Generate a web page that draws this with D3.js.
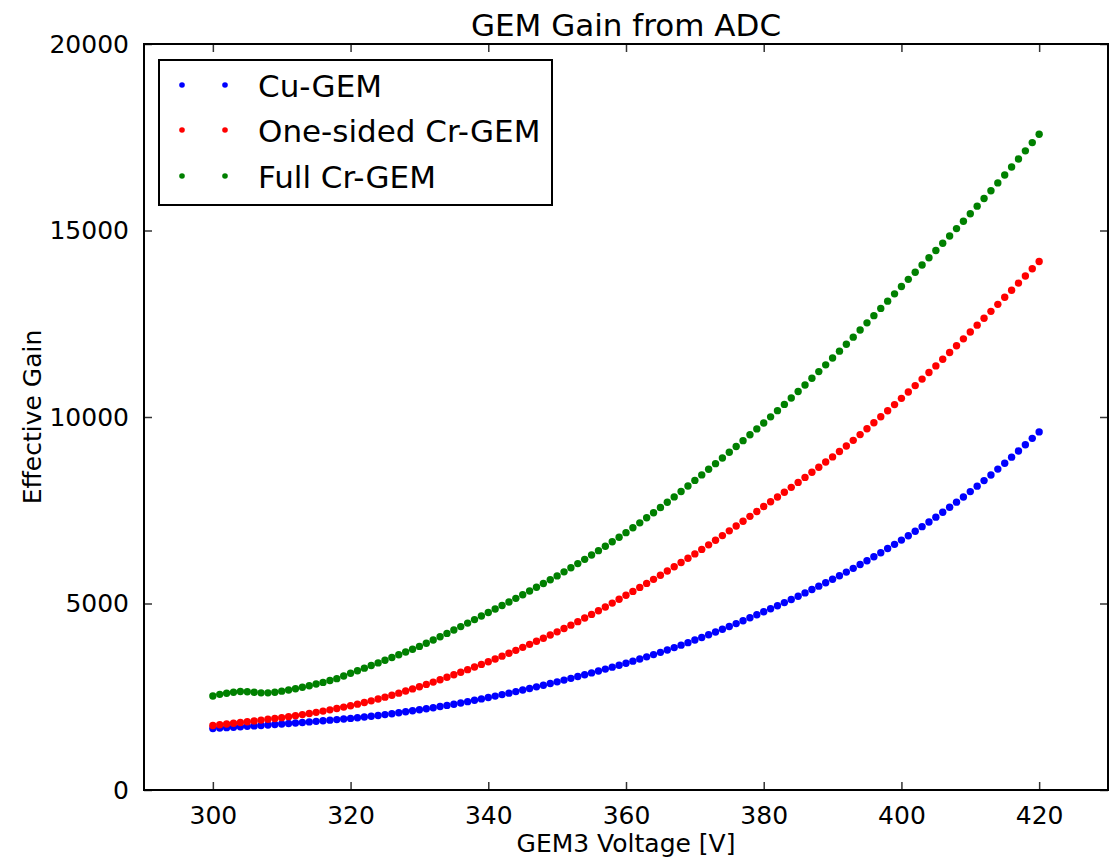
<!DOCTYPE html>
<html>
<head>
<meta charset="utf-8">
<script src="https://cdn.jsdelivr.net/npm/d3@7/dist/d3.min.js"></script>
<style>
  html, body { margin: 0; padding: 0; background: #fff; }
  svg text { font-family: "DejaVu Sans", sans-serif; fill: #000; }
</style>
</head>
<body>
<svg id="chart" width="1114" height="859"></svg>
<script>
// GEM3 voltage scan, 300 V to 420 V in 1 V steps
const voltages = d3.range(300, 421, 1);

const cuGem = [
  1650,1660,1671,1682,1694,1706,1718,1731,1744,1757,
  1770,1783,1797,1811,1826,1841,1856,1872,1888,1904,
  1920,1938,1957,1977,1998,2021,2045,2070,2096,2123,
  2150,2178,2207,2237,2268,2300,2334,2369,2405,2442,
  2480,2518,2557,2597,2638,2680,2722,2765,2809,2854,
  2900,2946,2993,3041,3090,3140,3190,3241,3293,3346,
  3400,3455,3512,3570,3630,3691,3754,3818,3884,3951,
  4020,4090,4161,4234,4308,4384,4461,4539,4618,4698,
  4780,4860,4941,5024,5109,5196,5284,5374,5465,5557,
  5650,5745,5842,5942,6044,6148,6254,6362,6473,6586,
  6700,6817,6937,7060,7186,7315,7446,7580,7717,7857,
  8000,8146,8295,8447,8603,8762,8924,9089,9257,9427,
  9600
];

const oneSidedCrGem = [
  1730,1749,1769,1789,1810,1831,1852,1874,1896,1918,
  1940,1966,1993,2021,2051,2082,2115,2149,2185,2222,
  2260,2301,2344,2390,2438,2489,2542,2597,2653,2711,
  2770,2831,2893,2957,3022,3089,3157,3226,3296,3367,
  3440,3514,3589,3666,3744,3824,3905,3987,4070,4154,
  4240,4329,4420,4514,4610,4708,4807,4908,5011,5115,
  5220,5325,5431,5539,5648,5759,5871,5984,6098,6213,
  6330,6450,6572,6696,6821,6948,7076,7206,7337,7468,
  7600,7726,7854,7983,8114,8247,8381,8517,8654,8792,
  8930,9075,9223,9374,9528,9685,9844,10005,10168,10333,
  10500,10670,10842,11016,11192,11370,11549,11730,11912,12095,
  12280,12463,12647,12833,13020,13209,13399,13590,13782,13975,
  14170
];

const fullCrGem = [
  2520,2565,2595,2620,2640,2635,2620,2605,2605,2620,
  2650,2680,2715,2755,2795,2840,2885,2935,2985,3055,
  3130,3198,3267,3337,3408,3480,3552,3625,3699,3774,
  3850,3934,4020,4108,4198,4289,4381,4474,4568,4663,
  4760,4853,4947,5042,5138,5236,5335,5435,5536,5638,
  5740,5848,5958,6070,6184,6300,6417,6536,6656,6777,
  6900,7030,7162,7297,7434,7574,7715,7858,8003,8151,
  8300,8448,8598,8749,8901,9055,9210,9366,9523,9681,
  9840,10004,10170,10338,10509,10683,10859,11037,11217,11398,
  11580,11765,11952,12141,12332,12524,12717,12911,13106,13302,
  13500,13690,13881,14074,14268,14463,14658,14854,15051,15250,
  15450,15653,15858,16066,16276,16488,16702,16918,17136,17357,
  17580
];

const seriesNames = ["Cu-GEM", "One-sided Cr-GEM", "Full Cr-GEM"];
const seriesColors = ["#0000ff", "#ff0000", "#008000"];
const xTickValues = [300, 320, 340, 360, 380, 400, 420];
const yTickValues = [0, 5000, 10000, 15000, 20000];

const series = [cuGem, oneSidedCrGem, fullCrGem].map((vals, i) => ({
  name: seriesNames[i],
  color: seriesColors[i],
  points: vals.map((v, j) => ({ x: voltages[j], y: v }))
}));

const plot = { left: 144, right: 1108, top: 44, bottom: 790 };
const svg = d3.select("#chart");

const x = d3.scaleLinear().domain([290, 430]).range([plot.left, plot.right]);
const y = d3.scaleLinear().domain([0, 20000]).range([plot.bottom, plot.top]);

// data markers
const markers = svg.append("g");
series.forEach(s => {
  markers.append("g")
    .selectAll("circle")
    .data(s.points)
    .join("circle")
    .attr("cx", d => x(d.x))
    .attr("cy", d => y(d.y))
    .attr("r", 3.7)
    .attr("fill", s.color);
});

// axes: tick marks point inward on all four sides
const tickLen = 8;
function styleAxis(g) {
  g.select(".domain").remove();
  g.selectAll(".tick line").attr("stroke", "#333").attr("stroke-width", 1.5);
}

svg.append("g")
  .attr("transform", `translate(0,${plot.bottom})`)
  .call(d3.axisBottom(x).tickValues(xTickValues).tickSizeInner(-tickLen).tickSizeOuter(0).tickPadding(16))
  .call(styleAxis)
  .call(g => g.selectAll(".tick text").attr("font-size", 25).attr("font-family", "DejaVu Sans"));

svg.append("g")
  .attr("transform", `translate(0,${plot.top})`)
  .call(d3.axisTop(x).tickValues(xTickValues).tickSizeInner(-tickLen).tickSizeOuter(0).tickFormat(""))
  .call(styleAxis);

svg.append("g")
  .attr("transform", `translate(${plot.left},0)`)
  .call(d3.axisLeft(y).tickValues(yTickValues).tickSizeInner(-tickLen).tickSizeOuter(0).tickPadding(15).tickFormat(d3.format("d")))
  .call(styleAxis)
  .call(g => g.selectAll(".tick text").attr("font-size", 25).attr("font-family", "DejaVu Sans"));

svg.append("g")
  .attr("transform", `translate(${plot.right},0)`)
  .call(d3.axisRight(y).tickValues(yTickValues).tickSizeInner(-tickLen).tickSizeOuter(0).tickFormat(""))
  .call(styleAxis);

// plot frame
svg.append("rect")
  .attr("x", plot.left).attr("y", plot.top)
  .attr("width", plot.right - plot.left).attr("height", plot.bottom - plot.top)
  .attr("fill", "none").attr("stroke", "#000").attr("stroke-width", 2);

// title and axis labels
svg.append("text")
  .attr("x", (plot.left + plot.right) / 2).attr("y", 36)
  .attr("text-anchor", "middle").attr("font-size", 31)
  .text("GEM Gain from ADC");

svg.append("text")
  .attr("x", (plot.left + plot.right) / 2).attr("y", 852)
  .attr("text-anchor", "middle").attr("font-size", 25)
  .text("GEM3 Voltage [V]");

svg.append("text")
  .attr("transform", `translate(41,${(plot.top + plot.bottom) / 2}) rotate(-90)`)
  .attr("text-anchor", "middle").attr("font-size", 25)
  .text("Effective Gain");

// legend
const legend = svg.append("g");
legend.append("rect")
  .attr("x", 159).attr("y", 60).attr("width", 393).attr("height", 145)
  .attr("fill", "#fff").attr("stroke", "#000").attr("stroke-width", 2);

const rowY = [85, 130, 176];
series.forEach((s, i) => {
  [182, 225].forEach(cx => {
    legend.append("circle")
      .attr("cx", cx).attr("cy", rowY[i]).attr("r", 2.8).attr("fill", s.color);
  });
  legend.append("text")
    .attr("x", 258).attr("y", rowY[i] + 11.5)
    .attr("font-size", 31)
    .text(s.name);
});
</script>
</body>
</html>
